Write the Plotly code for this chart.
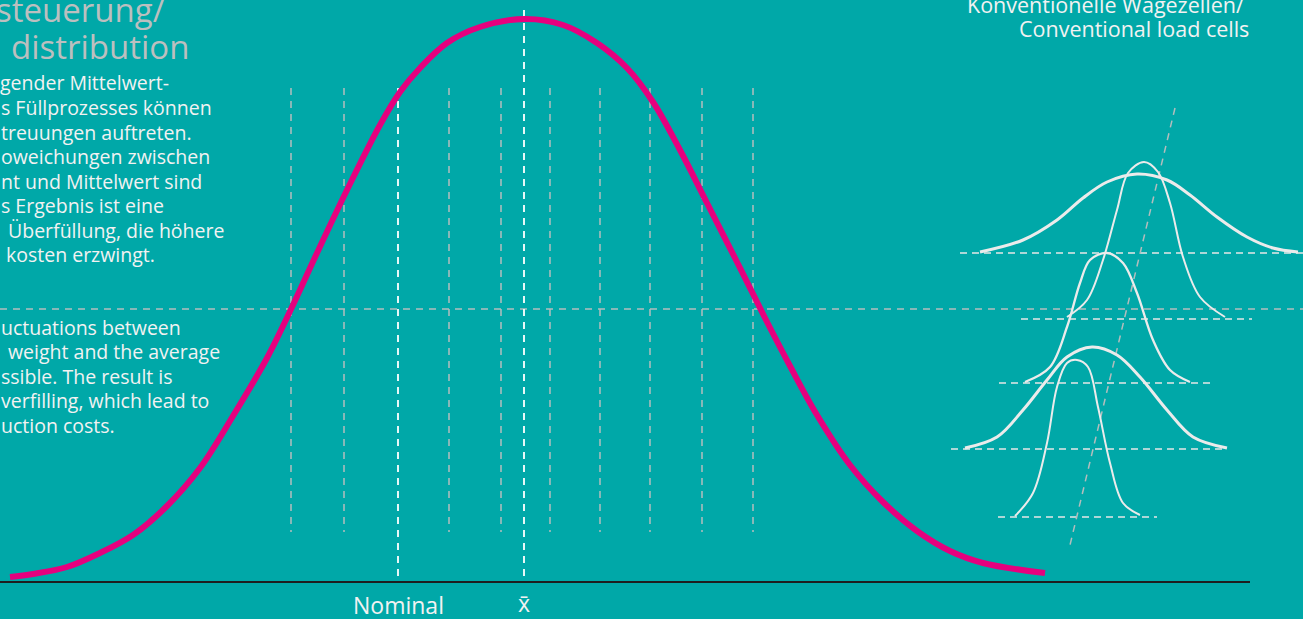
import plotly.graph_objects as go

# ---------------- data (canvas units: x = weight axis, y = height from top) ----------------
# Main filling distribution (pink)
main_x = [10, 33, 67, 100, 133, 167, 200, 233, 267, 293, 317, 347, 380, 400, 420, 447, 480, 525,
          563, 597, 627, 653, 680, 707, 737, 765, 790, 817, 850, 883, 917, 950, 983, 1045]
main_y = [577, 574, 567, 553, 535, 506, 468, 416, 358, 305, 253, 190, 125, 92, 68, 43, 27, 19,
          25, 43, 68, 102, 150, 203, 262, 318, 366, 415, 465, 502, 531, 551, 563, 573]

# Dashed guides
grid_x = [291, 344, 449, 501, 550, 600, 650, 702, 753]
grid_top, grid_bottom = 88, 532
nominal_x, nominal_top = 398, 88
mean_x, mean_top = 524, 10
axis_y = 582
level_y = 309

# Small distributions (conventional load cells)
small_a_x = [980, 1023, 1057, 1083, 1107, 1137, 1167, 1190, 1217, 1247, 1273, 1298]
small_a_y = [252, 240, 220, 198, 182, 174, 180, 195, 217, 237, 248, 252]
small_b_x = [1067, 1087, 1103, 1117, 1128, 1144, 1158, 1170, 1183, 1200, 1225]
small_b_y = [317, 300, 260, 210, 173, 162, 172, 203, 257, 297, 317]
small_c_x = [1025, 1050, 1067, 1080, 1090, 1107, 1123, 1137, 1153, 1170, 1190]
small_c_y = [382, 367, 327, 283, 260, 253, 263, 293, 340, 370, 382]
small_d_x = [965, 997, 1023, 1047, 1067, 1092, 1117, 1140, 1167, 1193, 1227]
small_d_y = [448, 437, 410, 380, 357, 347, 355, 377, 410, 437, 448]
small_e_x = [1015, 1033, 1047, 1057, 1067, 1077, 1088, 1098, 1110, 1123, 1140]
small_e_y = [516, 493, 443, 387, 363, 360, 367, 407, 463, 503, 515]

small_base_y = [253, 319, 383, 449, 517]
small_base_x0 = [960, 1021, 999, 951, 998]
small_base_x1 = [1303, 1252, 1212, 1227, 1157]
trend_x = [1175, 1070]
trend_y = [108, 545]

# Texts
title_lines = ["steuerung/", "distribution"]
de_lines = ["gender Mittelwert-", "s Füllprozesses können", "treuungen auftreten.",
            "oweichungen zwischen", "nt und Mittelwert sind", "s Ergebnis ist eine",
            "Überfüllung, die höhere", "kosten erzwingt."]
en_lines = ["uctuations between", "weight and the average", "ssible. The result is",
            "verfilling, which lead to", "uction costs."]
right_lines = ["Konventionelle Wägezellen/", "Conventional load cells"]
axis_labels = ["Nominal", "x̄"]

# ---------------- styling ----------------
W, H = 1303, 619
BG = "#00A8A8"
PINK = "#E6007E"
GRAY = "#B4BDBD"
WHITE = "#F2F2F2"
FONT = "Open Sans"

fig = go.Figure()

def seg(x, y, color, width, dash):
    fig.add_trace(go.Scatter(x=x, y=y, mode="lines", hoverinfo="skip",
                             line=dict(color=color, width=width, dash=dash)))

# gray level line and grid
seg([0, W], [level_y, level_y], GRAY, 1.5, "7px,6px")
for gx in grid_x:
    seg([gx, gx], [grid_top, grid_bottom], GRAY, 1.5, "7px,6px")
seg([nominal_x, nominal_x], [nominal_top, axis_y], "#FFFFFF", 1.8, "7px,6px")
seg([mean_x, mean_x], [mean_top, axis_y], "#FFFFFF", 1.8, "7px,6px")

# axis line
seg([0, 1250], [axis_y, axis_y], "#1E1E1E", 2, "solid")

# main curve
fig.add_trace(go.Scatter(x=main_x, y=main_y, mode="lines", hoverinfo="skip",
                         line=dict(color=PINK, width=6, shape="spline", smoothing=1.0)))

# small distributions
for bx0, bx1, by in zip(small_base_x0, small_base_x1, small_base_y):
    seg([bx0, bx1], [by, by], "#E6E6E6", 1.5, "7px,5px")
seg(trend_x, trend_y, GRAY, 1.5, "7px,6px")
for xs, ys, w in [(small_a_x, small_a_y, 3), (small_b_x, small_b_y, 2),
                  (small_c_x, small_c_y, 2.3), (small_d_x, small_d_y, 3),
                  (small_e_x, small_e_y, 2)]:
    fig.add_trace(go.Scatter(x=xs, y=ys, mode="lines", hoverinfo="skip",
                             line=dict(color="#EBEBEB", width=w, shape="spline", smoothing=1.0)))

ann = []
def text(x, y, s, size, color, xanchor="left"):
    ann.append(dict(x=x / W, y=1 - y / H, xref="paper", yref="paper", text=s, showarrow=False,
                    xanchor=xanchor, yanchor="middle",
                    font=dict(family=FONT, size=size, color=color)))

text(-6, 9, title_lines[0], 33, "#BCBFBF")
text(9, 46, title_lines[1], 33, "#BCBFBF")
de_x = [-2, -1, -1, -1, -1, -1, 6, 4]
for i, (s, lx) in enumerate(zip(de_lines, de_x)):
    text(lx, 83 + i * 24.5, s, 19.5, WHITE)
en_x = [-1, 6, -1, -1, -1]
for i, (s, lx) in enumerate(zip(en_lines, en_x)):
    text(lx, 327 + i * 24.5, s, 19.5, WHITE)
text(1246, 4, right_lines[0], 21.5, WHITE, "right")
text(1251, 28, right_lines[1], 21.5, WHITE, "right")
text(nominal_x, 605, axis_labels[0], 23, WHITE, "center")
text(mean_x, 603, axis_labels[1], 23, WHITE, "center")

fig.update_layout(
    width=W, height=H, margin=dict(l=0, r=0, t=0, b=0),
    paper_bgcolor=BG, plot_bgcolor=BG, showlegend=False,
    xaxis=dict(range=[0, W], visible=False, fixedrange=True),
    yaxis=dict(range=[H, 0], visible=False, fixedrange=True),
    annotations=ann,
)
fig.write_html("out.html", config={"displayModeBar": False},
               post_script="document.body.style.margin='0px';document.body.style.overflow='hidden';")
